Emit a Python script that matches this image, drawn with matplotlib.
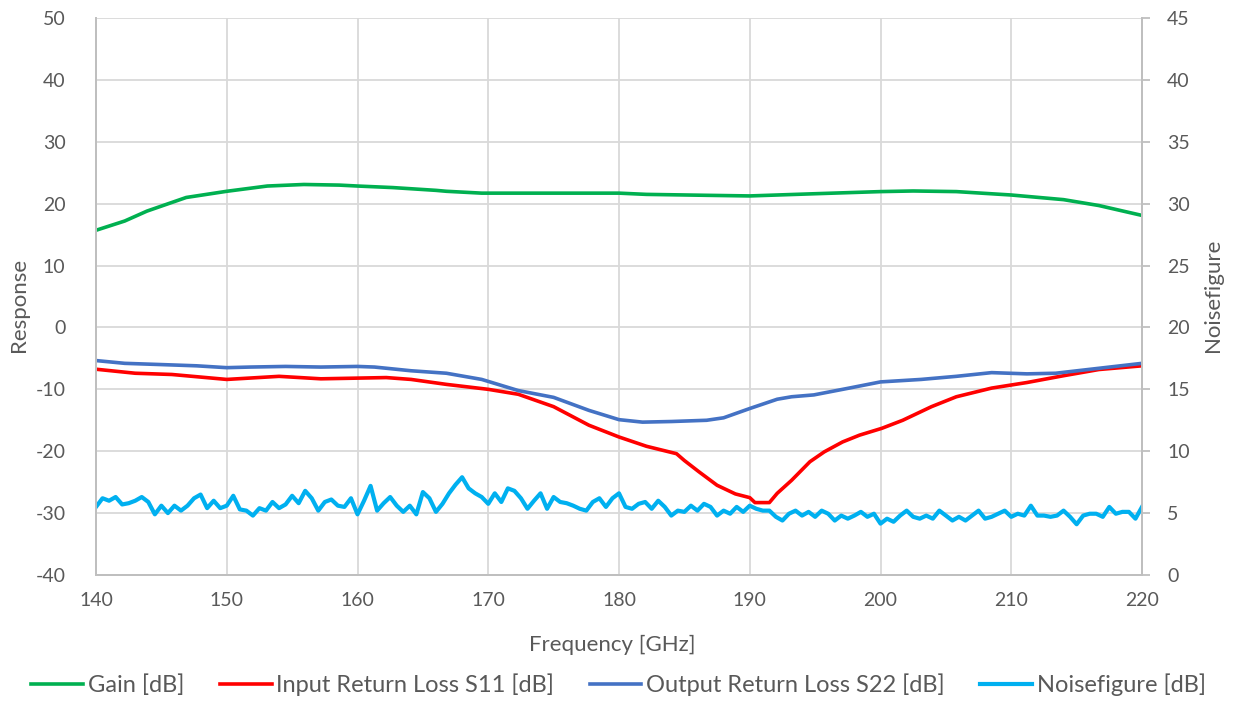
import numpy as np
import matplotlib
matplotlib.use('Agg')
import matplotlib.pyplot as plt

plt.rcParams['font.family'] = ['Lato', 'DejaVu Sans']
plt.rcParams['axes.unicode_minus'] = False

# --- data ---
freq_gain = [140, 142.2, 143.9, 146.9, 150, 153.1, 155.9, 158.6, 160, 162.7, 166, 166.8, 169.5,
             175, 180, 182.1, 186.7, 190, 194.9, 200, 202.5, 205.8, 210, 214, 216.7, 220]
gain = [15.7, 17.2, 18.8, 21.0, 22.0, 22.85, 23.1, 23.0, 22.85, 22.6, 22.15, 22.0, 21.7,
        21.7, 21.7, 21.5, 21.35, 21.25, 21.6, 21.95, 22.05, 21.95, 21.4, 20.65, 19.7, 18.1]

freq_s11 = [140, 143, 145.8, 150, 154, 157.2, 162.2, 164.1, 166.8, 170, 172.3, 175, 177.7, 180,
            182.1, 184.4, 185.0, 186.1, 187.5, 188.9, 190, 190.4, 191.5, 192.1, 193.2, 194.6,
            195.7, 197.1, 198.4, 200.1, 201.7, 203.9, 205.8, 208.5, 211.2, 214.0, 216.7, 220]
s11 = [-6.75, -7.4, -7.6, -8.4, -7.9, -8.3, -8.1, -8.4, -9.2, -10.0, -10.8, -12.8, -15.8, -17.7,
       -19.2, -20.4, -21.5, -23.3, -25.5, -26.9, -27.5, -28.3, -28.3, -26.8, -24.7, -21.7,
       -20.1, -18.5, -17.4, -16.3, -15.0, -12.8, -11.2, -9.8, -8.9, -7.8, -6.8, -6.2]

freq_s22 = [140, 142.2, 145, 147.7, 150, 151.8, 154.5, 157.2, 160, 161.3, 164.1, 166.8, 169.5,
            172.3, 175, 177.7, 180, 181.8, 184, 186.7, 188, 190, 192.1, 193.2, 194.9, 197.6,
            200, 203.1, 205.8, 208.5, 211.2, 213.4, 216.7, 220]
s22 = [-5.35, -5.8, -6.0, -6.2, -6.5, -6.4, -6.3, -6.4, -6.3, -6.4, -7.0, -7.4, -8.4,
       -10.2, -11.3, -13.4, -14.9, -15.3, -15.2, -15.0, -14.6, -13.1, -11.6, -11.2, -10.9, -9.8,
       -8.8, -8.4, -7.9, -7.3, -7.5, -7.4, -6.6, -5.8]

# noise figure, one reading every 0.5 GHz from 140 GHz
nf = [5.5, 6.2, 6.0, 6.3, 5.7, 5.8, 6.0, 6.3, 5.9, 4.9,
      5.6, 5.0, 5.6, 5.2, 5.6, 6.2, 6.5, 5.4, 6.0, 5.4,
      5.6, 6.4, 5.3, 5.2, 4.8, 5.4, 5.2, 5.9, 5.4, 5.7,
      6.4, 5.8, 6.8, 6.2, 5.2, 5.9, 6.1, 5.6, 5.5, 6.2,
      4.9, 6.0, 7.2, 5.2, 5.8, 6.3, 5.6, 5.1, 5.6, 4.9,
      6.7, 6.2, 5.1, 5.75, 6.6, 7.3, 7.9, 7.0, 6.6, 6.3,
      5.75, 6.6, 5.9, 7.0, 6.8, 6.2, 5.35, 6.0, 6.6, 5.35,
      6.3, 5.9, 5.8, 5.6, 5.35, 5.2, 5.9, 6.2, 5.5, 6.2,
      6.6, 5.5, 5.35, 5.75, 5.9, 5.35, 6.0, 5.5, 4.8, 5.2,
      5.1, 5.6, 5.2, 5.75, 5.5, 4.8, 5.2, 4.95, 5.5, 5.1,
      5.6, 5.35, 5.2, 5.2, 4.7, 4.4, 4.95, 5.2, 4.8, 5.1,
      4.7, 5.2, 4.95, 4.4, 4.8, 4.55, 4.8, 5.1, 4.7, 4.95,
      4.15, 4.55, 4.3, 4.8, 5.2, 4.7, 4.55, 4.8, 4.55, 5.2,
      4.8, 4.4, 4.7, 4.4, 4.8, 5.2, 4.55, 4.7, 4.95, 5.2,
      4.7, 4.95, 4.8, 5.6, 4.8, 4.8, 4.7, 4.8, 5.2, 4.7,
      4.1, 4.8, 4.95, 4.95, 4.7, 5.5, 4.95, 5.1, 5.1, 4.55,
      5.5]
freq_nf = 140 + 0.5 * np.arange(len(nf))

text_col = '#595959'
grid_col = '#D9D9D9'
spine_col = '#BFBFBF'

fig = plt.figure(figsize=(12.37, 7.02), dpi=100)
ax1 = fig.add_axes([96 / 1237, 1 - 575 / 702, (1142 - 96) / 1237, (575 - 18) / 702])
ax2 = ax1.twinx()

l1, = ax1.plot(freq_gain, gain, color='#00B050', lw=2.6, label='Gain [dB]')
l2, = ax1.plot(freq_s11, s11, color='#FF0000', lw=2.6, label='Input Return Loss S11 [dB]')
l3, = ax1.plot(freq_s22, s22, color='#4472C4', lw=2.6, label='Output Return Loss S22 [dB]')
l4, = ax2.plot(freq_nf, nf, color='#00B0F0', lw=3.0, label='Noisefigure [dB]')

ax1.set_xlim(140, 220)
ax1.set_ylim(-40, 50)
ax1.set_xticks(np.arange(140, 221, 10))
ax1.set_yticks(np.arange(-40, 51, 10))
ax2.set_ylim(0, 45)
ax2.set_yticks(np.arange(0, 46, 5))

ax1.grid(True, color=grid_col, lw=1.3)
ax1.set_axisbelow(True)

for ax in (ax1, ax2):
    ax.spines['top'].set_visible(False)
    for s in ('left', 'right', 'bottom'):
        ax.spines[s].set_color(spine_col)
        ax.spines[s].set_linewidth(1.3)

ax1.tick_params(axis='both', length=0, labelsize=14, labelcolor=text_col)
ax1.tick_params(axis='y', pad=22)
ax1.tick_params(axis='x', pad=12)
ax2.tick_params(axis='y', length=6, width=1.3, color=spine_col, labelsize=14,
                labelcolor=text_col, pad=12)

ax1.set_xlabel('Frequency [GHz]', fontsize=16, color=text_col, va='center')
ax1.set_ylabel('Response', fontsize=16, color=text_col, va='center')
ax2.set_ylabel('Noisefigure', fontsize=16, color=text_col, va='center')
ax1.xaxis.set_label_coords(0.494, -0.126)
ax1.yaxis.set_label_coords(-0.074, 0.485)
ax2.yaxis.set_label_coords(1.068, 0.503)

fig.legend(handles=[l1, l2, l3, l4], loc='lower center', bbox_to_anchor=(0.5, -0.022),
           ncol=4, frameon=False, fontsize=17, labelcolor=text_col,
           handlelength=2.2, handletextpad=0.2, columnspacing=1.5)

fig.savefig('out.png', dpi=100)
